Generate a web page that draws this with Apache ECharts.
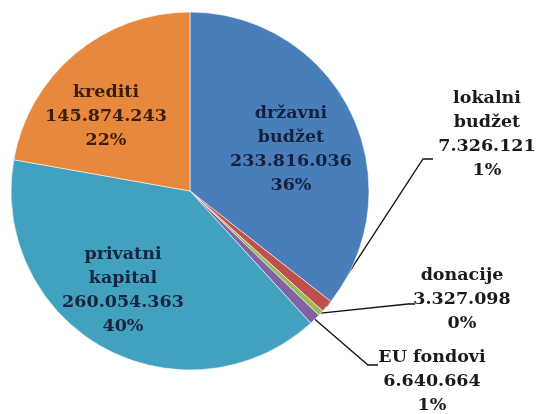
<!DOCTYPE html>
<html>
<head>
<meta charset="utf-8">
<script src="https://cdn.jsdelivr.net/npm/echarts@6/dist/echarts.min.js"></script>
<style>
html,body{margin:0;padding:0;background:#fff;}
#chart{width:538px;height:414px;}
</style>
</head>
<body>
<div id="chart"></div>
<script>
// ---- data ----
const categories = ['državni\nbudžet', 'lokalni\nbudžet', 'donacije', 'EU fondovi', 'privatni\nkapital', 'krediti'];
const values = [233816036, 7326121, 3327098, 6640664, 260054363, 145874243];
const percentLabels = ['36%', '1%', '0%', '1%', '40%', '22%'];

// ---- styling ----
const colors = ['#4a7ebb', '#c0504d', '#9bbb59', '#8064a2', '#43a1c0', '#e8883c'];
const textColors = ['#14213d', '#1a1a1a', '#1a1a1a', '#1a1a1a', '#17253f', '#3a1e0c'];
const insideIdx = [0, 4, 5];
// label block centres
const labelAnchors = {
  0: [291, 149], 4: [123, 290], 5: [106, 116.5],
  1: [487, 134.5], 2: [462, 299], 3: [432, 381]
};
// leader elbows for outside labels: [elbowX, elbowY, endX, endY]
const leaders = {
  1: [423, 159, 433, 159],
  2: [408, 304, 415, 304],
  3: [368, 365, 378, 365]
};

function fmt(v) {
  return String(v).replace(/\B(?=(\d{3})+(?!\d))/g, '.');
}

const data = categories.map((c, i) => ({
  name: c,
  value: values[i],
  itemStyle: { color: colors[i] },
  label: {
    position: insideIdx.includes(i) ? 'inside' : 'outside',
    color: textColors[i]
  },
  labelLine: { show: !insideIdx.includes(i) }
}));

const chart = echarts.init(document.getElementById('chart'), null, { renderer: 'canvas' });
chart.setOption({
  backgroundColor: '#fff',
  animation: false,
  series: [{
    type: 'pie',
    center: [190, 191],
    radius: 179,
    startAngle: 90,
    clockwise: true,
    avoidLabelOverlap: false,
    itemStyle: { borderColor: 'rgba(255,255,255,0.55)', borderWidth: 1 },
    label: {
      show: true,
      fontFamily: 'DejaVu Serif',
      fontWeight: 'bold',
      fontSize: 17.5,
      lineHeight: 24,
      align: 'center',
      formatter: p => p.name + '\n' + fmt(p.value) + '\n' + percentLabels[p.dataIndex]
    },
    labelLine: {
      show: true,
      length: 10,
      length2: 10,
      lineStyle: { color: '#111', width: 1.3 }
    },
    labelLayout: function (params) {
      const i = params.dataIndex;
      const a = labelAnchors[i];
      const out = { x: a[0], y: a[1], align: 'center', verticalAlign: 'middle' };
      if (leaders[i] && params.labelLinePoints) {
        const s = params.labelLinePoints[0];
        const l = leaders[i];
        out.labelLinePoints = [[s[0], s[1]], [l[0], l[1]], [l[2], l[3]]];
      }
      return out;
    },
    data: data
  }]
});
</script>
</body>
</html>
